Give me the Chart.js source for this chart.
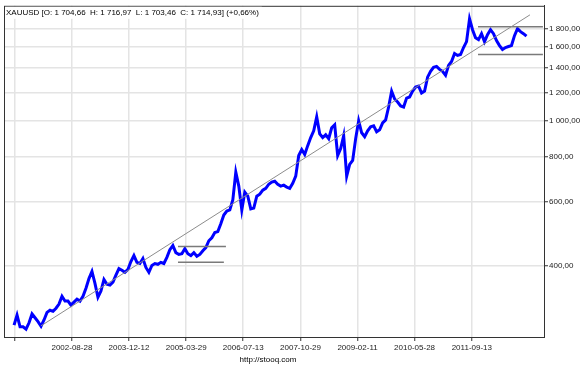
<!DOCTYPE html>
<html>
<head>
<meta charset="utf-8">
<script src="https://cdn.jsdelivr.net/npm/chart.js@4.4.1/dist/chart.umd.min.js"></script>
<style>
  html, body { margin: 0; padding: 0; background: #fff; }
</style>
</head>
<body>
<canvas id="goldChart" width="585" height="366"></canvas>
<script>
const symbolTitle = 'XAUUSD [O: 1 704,66  H: 1 716,97  L: 1 703,46  C: 1 714,93] (+0,66%)';
const sourceText = 'http://stooq.com';

// x axis dates (first one only gets a grid line, no label)
const tickDates = ['2001-05-14', '2002-08-28', '2003-12-12', '2005-03-29', '2006-07-13',
                   '2007-10-29', '2009-02-11', '2010-05-28', '2011-09-13'];
const yTicks = [400, 600, 800, 1000, 1200, 1400, 1600, 1800];

// gold price, one reading every ~25 days starting at firstDate
const firstDate = '2001-05-07';
const stepDays = 24.75;
const closes = [
    274, 292, 271, 271, 267, 278, 294, 287, 280, 272,
    283, 297, 301, 299, 305, 313, 329, 319, 319, 311,
    317, 323, 319, 329, 346, 368, 385, 357, 327, 340,
    366, 355, 353, 360, 376, 392, 388, 383, 390, 410,
    426, 408, 405, 418, 395, 383, 400, 405, 403, 408,
    405, 421, 442, 454, 434, 429, 431, 445, 431, 426,
    434, 424, 429, 439, 448, 468, 477, 493, 496, 521,
    551, 565, 569, 606, 723, 662, 569, 637, 621, 573,
    576, 621, 629, 645, 653, 670, 679, 683, 670, 662,
    666, 658, 653, 674, 705, 804, 835, 809, 856, 901,
    941, 1028, 923, 901, 917, 895, 959, 977, 804, 840,
    912, 705, 760, 779, 895, 1002, 929, 906, 941, 965,
    971, 935, 947, 989, 1008, 1094, 1210, 1151, 1129, 1101,
    1094, 1158, 1166, 1210, 1241, 1249, 1195, 1210, 1322, 1372,
    1407, 1416, 1389, 1372, 1338, 1425, 1461, 1537, 1518, 1527,
    1596, 1657, 1915, 1787, 1699, 1678, 1743, 1657, 1732, 1787,
    1743, 1668, 1616, 1576, 1596, 1606, 1616, 1721, 1799, 1765,
    1743, 1715
];

// drawn analysis lines
const trendDates = ['2001-12-15', '2013-01-05'];
const trendValues = [272.6, 1964];
const upper2005Dates = ['2005-01-20', '2006-02-20'];
const upper2005Value = 451;
const lower2005Dates = ['2005-01-20', '2006-02-03'];
const lower2005Value = 408;
const range2012Dates = ['2011-11-03', '2013-04-22'];
const range2012High = 1821;
const range2012Low = 1527;

const day = s => Date.parse(s) / 86400000;
const start = day(firstDate);

const fmt = v => {
    const parts = v.toFixed(2).split('.');
    return parts[0].replace(/\B(?=(\d{3})+(?!\d))/g, ' ') + ',' + parts[1];
};

const segment = (dates, vals) => dates.map((d, i) => ({ x: day(d), y: vals[i] }));

const font = '"Liberation Sans", Arial, sans-serif';

const frame = {
    id: 'frame',
    afterDraw(chart) {
        const { ctx, chartArea: a } = chart;
        ctx.save();
        ctx.strokeStyle = '#333';
        ctx.lineWidth = 1;
        ctx.strokeRect(a.left + 0.5, a.top + 0.5, a.right - a.left, a.bottom - a.top);
        ctx.font = '8px ' + font;
        ctx.textBaseline = 'middle';
        const w = ctx.measureText(symbolTitle).width;
        ctx.fillStyle = '#fff';
        ctx.fillRect(a.left + 1, a.top + 1, w + 4, 12);
        ctx.fillStyle = '#000';
        ctx.fillText(symbolTitle, a.left + 2, a.top + 7);
        ctx.textAlign = 'center';
        ctx.fillText(sourceText, 268, 360);
        ctx.restore();
    }
};

new Chart(document.getElementById('goldChart'), {
    type: 'line',
    data: {
        datasets: [{
            data: closes.map((v, i) => ({ x: start + i * stepDays, y: v })),
            borderColor: '#0000ff',
            borderWidth: 3,
            pointRadius: 0,
            order: 2
        }, {
            data: segment(trendDates, trendValues),
            borderColor: '#8c8c8c',
            borderWidth: 1,
            pointRadius: 0,
            order: 1
        }, {
            data: segment(upper2005Dates, [upper2005Value, upper2005Value]),
            borderColor: '#7a7a7a',
            borderWidth: 1.5,
            pointRadius: 0,
            order: 1
        }, {
            data: segment(lower2005Dates, [lower2005Value, lower2005Value]),
            borderColor: '#7a7a7a',
            borderWidth: 1.5,
            pointRadius: 0,
            order: 1
        }, {
            data: segment(range2012Dates, [range2012High, range2012High]),
            borderColor: '#7a7a7a',
            borderWidth: 1.5,
            pointRadius: 0,
            order: 1
        }, {
            data: segment(range2012Dates, [range2012Low, range2012Low]),
            borderColor: '#7a7a7a',
            borderWidth: 1.5,
            pointRadius: 0,
            order: 1
        }]
    },
    options: {
        responsive: false,
        animation: false,
        layout: { padding: { left: 4, top: 4, right: 0, bottom: 0 } },
        plugins: {
            legend: { display: false },
            tooltip: { enabled: false }
        },
        scales: {
            x: {
                type: 'linear',
                min: day('2001-02-13'),
                max: day('2013-05-01'),
                afterBuildTicks: scale => {
                    scale.ticks = tickDates.map(d => ({ value: day(d) }));
                },
                afterFit: scale => { scale.height = 29; },
                ticks: {
                    autoSkip: false,
                    maxRotation: 0,
                    padding: 2,
                    color: '#222',
                    font: { family: font, size: 8 },
                    callback: (v, i) => i === 0 ? '' : tickDates[i]
                },
                grid: { color: '#e4e4e4', lineWidth: 1.5, tickLength: 4, tickColor: '#333', tickWidth: 1 },
                border: { color: '#333' }
            },
            y: {
                type: 'logarithmic',
                position: 'right',
                min: 254,
                max: 2080,
                afterBuildTicks: scale => {
                    scale.ticks = yTicks.map(v => ({ value: v }));
                },
                afterFit: scale => { scale.width = 41; },
                ticks: {
                    padding: 1,
                    color: '#222',
                    font: { family: font, size: 8 },
                    callback: v => fmt(v)
                },
                grid: { color: '#e4e4e4', lineWidth: 1.5, tickLength: 4, tickColor: '#333', tickWidth: 1 },
                border: { color: '#333' }
            }
        }
    },
    plugins: [frame]
});
</script>
</body>
</html>
